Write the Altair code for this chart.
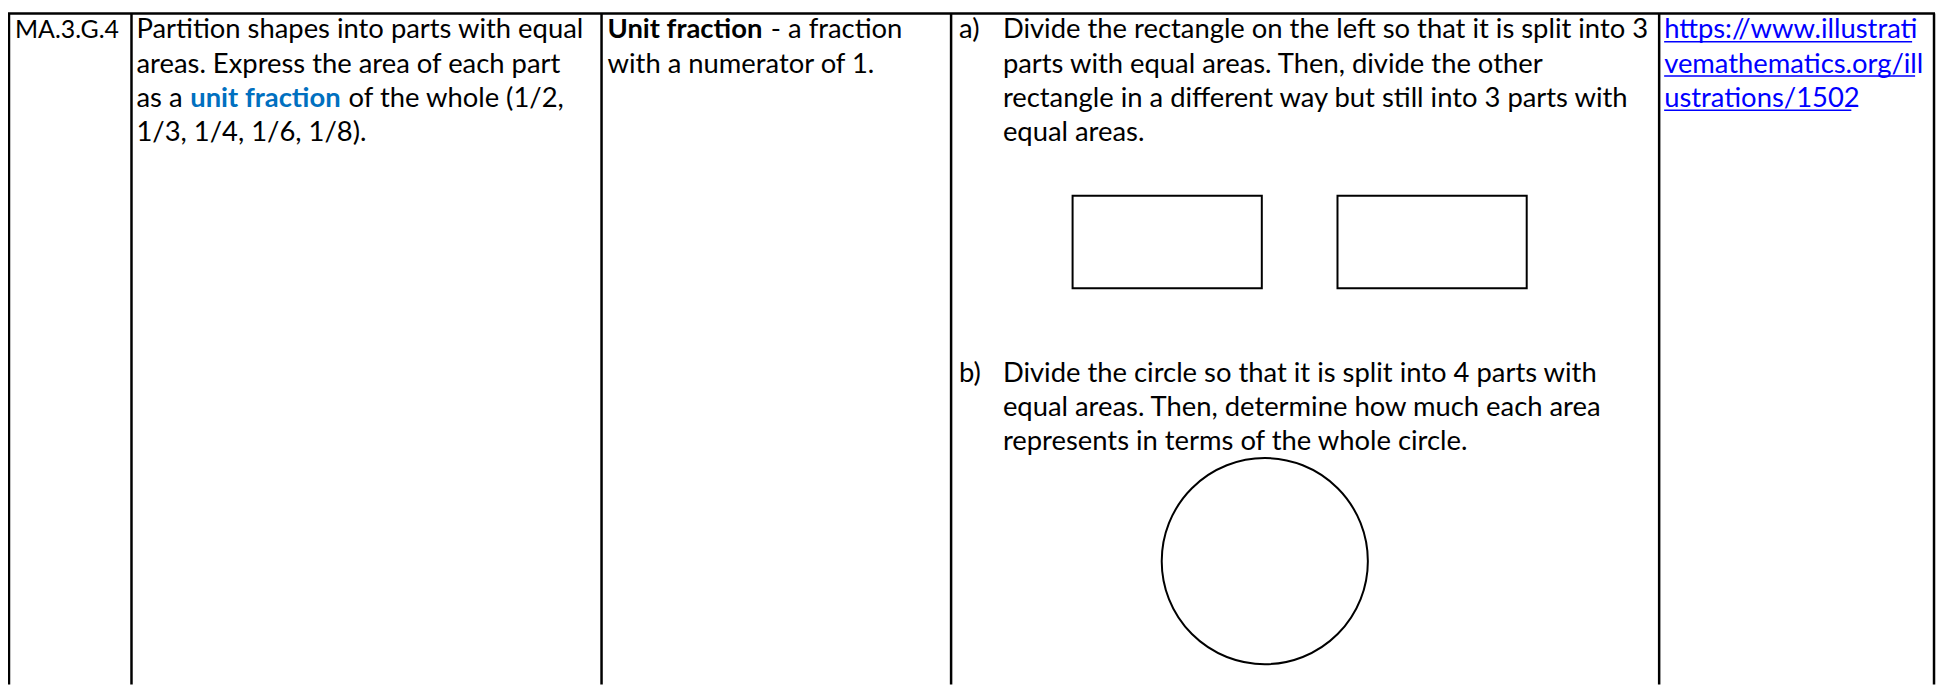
import altair as alt
import pandas as pd

# ---------------- content (table cells) ----------------
code_lines = ["MA.3.G.4"]
standard_plain = [
    "Partition shapes into parts with equal",
    "areas. Express the area of each part",
    "as a",
    "1/3, 1/4, 1/6, 1/8).",
]
standard_highlight = "unit fraction"
standard_after = "of the whole (1/2,"
vocab_bold = "Unit fraction"
vocab_plain = ["- a fraction", "with a numerator of 1."]
task_a_label = "a)"
task_a_lines = [
    "Divide the rectangle on the left so that it is split into 3",
    "parts with equal areas.  Then, divide the other",
    "rectangle in a different way but still into 3 parts with",
    "equal areas.",
]
task_b_label = "b)"
task_b_lines = [
    "Divide the circle so that it is split into 4 parts with",
    "equal areas.  Then, determine how much each area",
    "represents in terms of the whole circle.",
]
link_lines = ["https://www.illustrati", "vemathematics.org/ill", "ustrations/1502"]

# ---------------- layout (page pixels) ----------------
col_edges = [9, 132, 604, 955, 1666, 1942]
top_y, bottom_y = 12, 686
line0 = 37
step = 34.4
b_line0 = 382
FONT = "Lato"
FS = 27.5

rows_plain, rows_bold, rows_blue, rows_link, rows_code = [], [], [], [], []

def add(rows, x, y, t):
    rows.append({"x": x, "y": y, "t": t})

add(rows_code, 15, line0, code_lines[0])
for i, t in enumerate(standard_plain):
    add(rows_plain, 137, line0 + i * step, t)
add(rows_blue, 191, line0 + 2 * step, standard_highlight)
add(rows_plain, 350, line0 + 2 * step, standard_after)
add(rows_bold, 610, line0, vocab_bold)
add(rows_plain, 774, line0, vocab_plain[0])
add(rows_plain, 610, line0 + step, vocab_plain[1])
add(rows_plain, 963, line0, task_a_label)
for i, t in enumerate(task_a_lines):
    add(rows_plain, 1007, line0 + i * step, t)
add(rows_plain, 963, b_line0, task_b_label)
for i, t in enumerate(task_b_lines):
    add(rows_plain, 1007, b_line0 + i * step, t)
link_x = 1671
link_ends = [1920, 1923, 1859]
underline = []
for i, t in enumerate(link_lines):
    add(rows_link, link_x, line0 + i * step, t)
    yy = line0 + i * step + 3.5
    underline.append({"x": link_x, "x2": link_ends[i], "y": yy, "y2": yy})

grid = [{"x": c, "x2": c, "y": top_y, "y2": bottom_y} for c in col_edges]
grid.append({"x": col_edges[0] - 1, "x2": col_edges[-1] + 1, "y": top_y, "y2": top_y})

rects = [
    {"x": 1077, "x2": 1267, "y": 195, "y2": 288},
    {"x": 1343, "x2": 1533, "y": 195, "y2": 288},
]
circle = [{"x": 1270, "y": 562}]
circle_diameter = 207

W, H = 1931, 678
xs = alt.Scale(domain=[8, 8 + W], nice=False, zero=False)
ys = alt.Scale(domain=[8, 8 + H], nice=False, zero=False, reverse=True)

def X(f="x"):
    return alt.X(f"{f}:Q", scale=xs, axis=None)

def Y(f="y"):
    return alt.Y(f"{f}:Q", scale=ys, axis=None)

grid_layer = alt.Chart(pd.DataFrame(grid)).mark_rule(color="black", strokeWidth=2.5).encode(
    x=X(), x2="x2:Q", y=Y(), y2="y2:Q")

rect_layer = alt.Chart(pd.DataFrame(rects)).mark_rect(fill="white", stroke="black", strokeWidth=2).encode(
    x=X(), x2="x2:Q", y=Y(), y2="y2:Q")

circle_layer = alt.Chart(pd.DataFrame(circle)).mark_point(
    shape="circle", filled=False, color="black", strokeWidth=2, opacity=1).encode(
    x=X(), y=Y(), size=alt.value(circle_diameter * circle_diameter))

def text_layer(rows, color, weight, size=FS):
    return alt.Chart(pd.DataFrame(rows)).mark_text(
        align="left", baseline="alphabetic", font=FONT, fontSize=size,
        color=color, fontWeight=weight).encode(x=X(), y=Y(), text="t:N")

link_rule = alt.Chart(pd.DataFrame(underline)).mark_rule(color="#0000FF", strokeWidth=1.5).encode(
    x=X(), x2="x2:Q", y=Y(), y2="y2:Q")

chart = alt.layer(
    grid_layer, rect_layer, circle_layer,
    text_layer(rows_code, "black", "normal", 25),
    text_layer(rows_plain, "black", "normal"),
    text_layer(rows_bold, "black", "bold"),
    text_layer(rows_blue, "#0070C0", "bold"),
    text_layer(rows_link, "#0000FF", "normal"),
    link_rule,
).properties(
    width=W, height=H,
    autosize=alt.AutoSizeParams(type="none"),
    padding={"left": 0, "top": 0, "right": 8, "bottom": 8},
).configure_view(stroke=None)

chart.save("out.html", embed_options={"renderer": "svg", "actions": False})
